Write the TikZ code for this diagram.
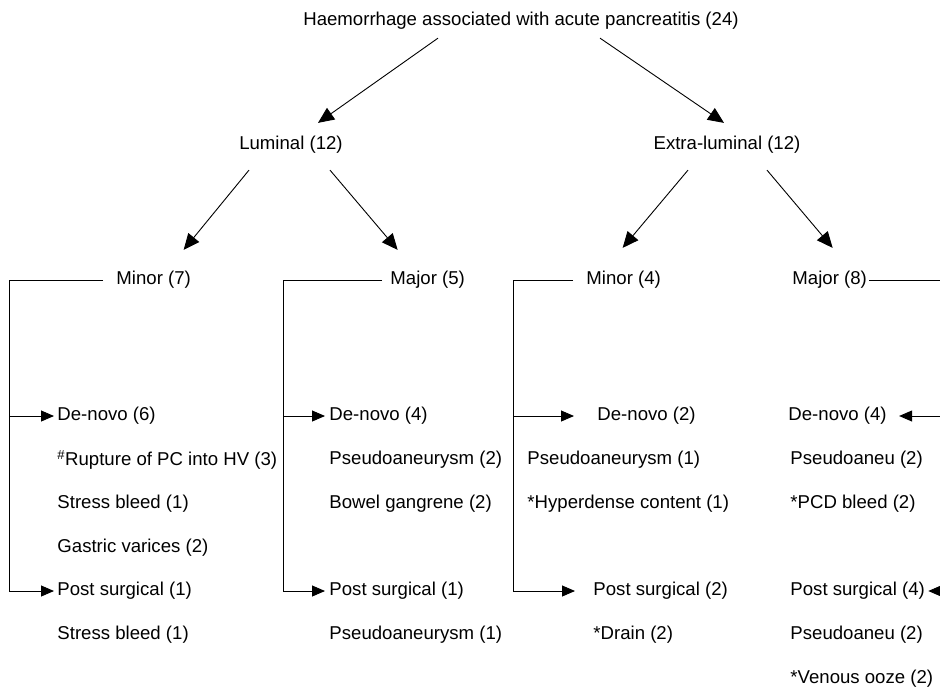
\documentclass[tikz,border=0pt]{standalone}
\usepackage{fontspec}
\setmainfont{Liberation Sans}
\usetikzlibrary{arrows.meta,calc}

\tikzset{every picture/.style={line width=0.9pt}}
\tikzset{
	lbl/.style={inner sep=0pt, font=\fontsize{18.6}{22}\selectfont},
	item/.style={lbl, anchor=west},
	arr/.style={-{Triangle[length=16pt,width=14pt]}},
	harr/.style={-{Triangle[length=13pt,width=11pt]}}
}

\begin{document}
\begin{tikzpicture}[x=1pt,y=1pt,yscale=-1,xscale=1]
	\useasboundingbox (0,0) rectangle (940,691);

	% Text Node
	\node[lbl] (top) at (521,21) {Haemorrhage associated with acute pancreatitis (24)};
	% Text Node
	\node[lbl] (lum) at (291,145) {Luminal (12)};
	% Text Node
	\node[lbl] (ext) at (727,145) {Extra-luminal (12)};

	% Text Node
	\node[item] (mi1) at (116,280) {Minor (7)};
	\node[item] (mj2) at (390,280) {Major (5)};
	\node[item] (mi3) at (586,280) {Minor (4)};
	\node[item] (mj4) at (792,280) {Major (8)};

	% Text Node
	\node[item] (dn1) at (57,416) {De-novo (6)};
	\node[item] (rp1) at (57,460) {\textsuperscript{\#}Rupture of PC into HV (3)};
	\node[item] (sb1) at (57,504) {Stress bleed (1)};
	\node[item] (gv1) at (57,548) {Gastric varices (2)};
	\node[item] (ps1) at (57,591) {Post surgical (1)};
	\node[item] (sc1) at (57,635) {Stress bleed (1)};

	% Text Node
	\node[item] (dn2) at (329,416) {De-novo (4)};
	\node[item] (pa2) at (329,460) {Pseudoaneurysm (2)};
	\node[item] (bg2) at (329,504) {Bowel gangrene (2)};
	\node[item] (ps2) at (329,591) {Post surgical (1)};
	\node[item] (pb2) at (329,635) {Pseudoaneurysm (1)};

	% Text Node
	\node[item] (dn3) at (597,416) {De-novo (2)};
	\node[item] (pa3) at (527,460) {Pseudoaneurysm (1)};
	\node[item] (hc3) at (527,504) {*Hyperdense content (1)};
	\node[item] (ps3) at (593,591) {Post surgical (2)};
	\node[item] (dr3) at (593,635) {*Drain (2)};

	% Text Node
	\node[item] (dn4) at (788,416) {De-novo (4)};
	\node[item] (pa4) at (790,460) {Pseudoaneu (2)};
	\node[item] (pc4) at (790,504) {*PCD bleed (2)};
	\node[item] (ps4) at (790,591) {Post surgical (4)};
	\node[item] (pb4) at (790,635) {Pseudoaneu (2)};
	\node[item] (vo4) at (790,679) {*Venous ooze (2)};

	% spine ends
	\coordinate (b1) at (9,591);
	\coordinate (b2) at (283,591);
	\coordinate (b3) at (513,591);
	\coordinate (b4) at (940,591);

	%Straight Lines
	\draw[arr] ($(top.south)+(-83,8)$) -- ($(lum.north)+(27,-13)$);
	\draw[arr] ($(top.south)+(79,8)$) -- ($(ext.north)+(-3,-13)$);
	%Straight Lines
	\draw[arr] ($(lum.south)+(-42,16)$) -- ($(mi1.north)+(30,-21)$);
	\draw[arr] ($(lum.south)+(39,16)$) -- ($(mj2.north)+(-30,-21)$);
	\draw[arr] ($(ext.south)+(-39,16)$) -- ($(mi3.north)+(-1,-23)$);
	\draw[arr] ($(ext.south)+(40,16)$) -- ($(mj4.north)+(3,-23)$);

	%Brackets
	\draw[shorten <=13pt] (mi1.west) -| (b1);
	\draw[harr, shorten >=3pt] (b1 |- dn1.west) -- (dn1.west);
	\draw[harr, shorten >=3pt] (b1) -- (ps1.west);

	\draw[shorten <=8pt] (mj2.west) -| (b2);
	\draw[harr, shorten >=4pt] (b2 |- dn2.west) -- (dn2.west);
	\draw[harr, shorten >=4pt] (b2) -- (ps2.west);

	\draw[shorten <=13pt] (mi3.west) -| (b3);
	\draw[harr, shorten >=23pt] (b3 |- dn3.west) -- (dn3.west);
	\draw[harr, shorten >=18pt] (b3) -- (ps3.west);

	\draw[shorten <=2pt] (mj4.east) -- (mj4.east -| b4);
	\draw[harr, shorten >=12pt] (b4 |- dn4.east) -- (dn4.east);
	\draw[harr, shorten >=3pt] (b4) -- (ps4.east);

\end{tikzpicture}
\end{document}
